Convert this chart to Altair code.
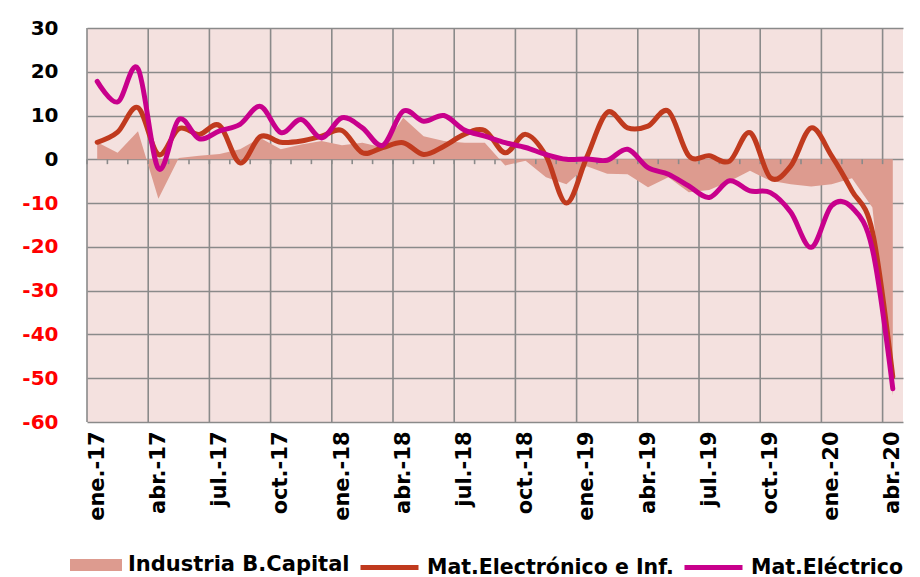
import json
import altair as alt
import pandas as pd

MESES = [
    "ene.-17", "feb.-17", "mar.-17", "abr.-17", "may.-17", "jun.-17", "jul.-17", "ago.-17",
    "sep.-17", "oct.-17", "nov.-17", "dic.-17",
    "ene.-18", "feb.-18", "mar.-18", "abr.-18", "may.-18", "jun.-18", "jul.-18", "ago.-18",
    "sep.-18", "oct.-18", "nov.-18", "dic.-18",
    "ene.-19", "feb.-19", "mar.-19", "abr.-19", "may.-19", "jun.-19", "jul.-19", "ago.-19",
    "sep.-19", "oct.-19", "nov.-19", "dic.-19",
    "ene.-20", "feb.-20", "mar.-20", "abr.-20",
]

INDUSTRIA = [3.9, 1.5, 6.4, -9.0, 0.3, 0.8, 1.2, 2.3, 4.9, 2.3, 3.4, 4.2, 3.2, 3.8, 2.7, 9.5,
             5.3, 4.2, 3.8, 3.8, -1.4, -0.3, -4.1, -5.7, -1.6, -3.3, -3.4, -6.4, -4.1, -7.5,
             -7.0, -5.0, -2.6, -4.9, -5.7, -6.2, -5.7, -4.3, -11.0, -54.0]

ELECTRONICO = [3.9, 6.2, 11.8, 1.1, 7.0, 5.7, 7.7, -0.8, 5.2, 3.9, 4.2, 5.3, 6.6, 1.5, 2.7, 3.8,
               1.1, 3.0, 5.7, 6.6, 1.5, 5.7, 0.8, -10.0, 0.5, 10.7, 7.2, 7.6, 11.0, 0.8,
               0.8, -0.4, 6.1, -4.2, -1.5, 7.2, 0.8, -7.2, -16.5, -49.7]

ELECTRICO = [17.8, 13.1, 20.7, -2.1, 9.1, 4.7, 6.5, 8.0, 12.1, 6.1, 9.1, 4.9, 9.5, 7.2, 3.2, 11.0,
             8.7, 10.0, 6.7, 5.3, 3.8, 2.7, 1.1, 0.0, 0.1, -0.2, 2.3, -1.9, -3.4, -6.1,
             -8.7, -4.9, -7.2, -7.6, -12.1, -20.1, -10.6, -11.0, -20.5, -52.4]

Y_TICKS = [-60, -50, -40, -30, -20, -10, 0, 10, 20, 30]
SERIES = ["Industria B.Capital", "Mat.Electrónico e Inf.", "Mat.Eléctrico"]
COLORES = ["#dd9b8f", "#c03a1e", "#c8008c"]

FONT = "DejaVu Sans"
GRID = "#8a8a8a"
n = len(MESES)

df_area = pd.DataFrame({"i": list(range(n)), "v": INDUSTRIA, "serie": SERIES[0]})
df_l1 = pd.DataFrame({"i": list(range(n)), "v": ELECTRONICO, "serie": SERIES[1]})
df_l2 = pd.DataFrame({"i": list(range(n)), "v": ELECTRICO, "serie": SERIES[2]})
df_grid = pd.DataFrame({"b": [k - 0.5 for k in range(0, n, 3)]})
df_ticks = pd.DataFrame({"b": [k - 0.5 for k in range(n)]})

xscale = alt.Scale(domain=[-0.5, n - 0.5], nice=False, zero=False)
yscale = alt.Scale(domain=[-60, 30], nice=False, zero=False)

label_expr = json.dumps(MESES) + "[datum.value]"

x_axis = alt.Axis(
    values=list(range(0, n, 3)), labelExpr=label_expr, labelAngle=-90,
    grid=False, ticks=False, domain=False, title=None,
    labelFont=FONT, labelFontSize=21, labelFontWeight="bold", labelColor="#000000",
    labelPadding=9, labelAlign="right", labelBaseline="middle",
)
y_axis = alt.Axis(
    values=Y_TICKS, grid=True, gridColor=GRID, gridWidth=1.6, ticks=False, domain=False,
    title=None, labelFont=FONT, labelFontSize=20, labelFontWeight="bold",
    labelExpr="'' + datum.value",
    labelColor={"expr": "datum.value < 0 ? '#ff0000' : '#000000'"}, labelPadding=29,
)

X = alt.X("i:Q", scale=xscale, axis=x_axis)
Y = alt.Y("v:Q", scale=yscale, axis=y_axis)

vgrid = alt.Chart(df_grid).mark_rule(color=GRID, strokeWidth=1.6).encode(
    x=alt.X("b:Q", scale=xscale, axis=x_axis)
)

area = alt.Chart(df_area).mark_area(opacity=1, interpolate="linear").encode(
    x=X, y=Y,
    fill=alt.Fill(
        "serie:N",
        scale=alt.Scale(domain=[SERIES[0]], range=[COLORES[0]]),
        legend=alt.Legend(
            orient="none", legendX=-17, legendY=511, direction="horizontal", title=None,
            symbolType="M-1,-0.23L1,-0.23L1,0.23L-1,0.23Z", symbolSize=2704,
            symbolStrokeWidth=0, symbolOpacity=1,
            labelFont=FONT, labelFontSize=21, labelFontWeight="bold", labelColor="#000000",
            labelOffset=6, labelLimit=400, padding=0,
        ),
    ),
)

zticks = alt.Chart(df_ticks).mark_rule(color=GRID, strokeWidth=1.6).encode(
    x=alt.X("b:Q", scale=xscale, axis=x_axis),
    y=alt.datum(0, scale=yscale, axis=y_axis),
    y2=alt.datum(-1.1),
)

stroke_enc = alt.Stroke(
    "serie:N",
    scale=alt.Scale(domain=SERIES[1:], range=COLORES[1:]),
    legend=alt.Legend(
        orient="none", legendX=271, legendY=508, direction="horizontal", title=None,
        symbolType="stroke", symbolSize=3364, symbolStrokeWidth=5,
        labelFont=FONT, labelFontSize=20.5, labelFontWeight="bold", labelColor="#000000",
        labelOffset=6, labelLimit=400, columnPadding=0, padding=0,
    ),
)

line1 = alt.Chart(df_l1).mark_line(
    interpolate="cardinal", tension=0, strokeWidth=5, strokeCap="round", strokeJoin="round"
).encode(x=X, y=Y, stroke=stroke_enc)

line2 = alt.Chart(df_l2).mark_line(
    interpolate="cardinal", tension=0, strokeWidth=5, strokeCap="round", strokeJoin="round"
).encode(x=X, y=Y, stroke=stroke_enc)

chart = alt.layer(vgrid, area, zticks, line1, line2).properties(
    width=816, height=394,
    autosize=alt.AutoSizeParams(type="none"),
    padding={"left": 79, "top": 20, "right": 9, "bottom": 155},
    background="#ffffff",
).configure_view(fill="#f4e1df", strokeWidth=0)

chart.save("out.html", embed_options={"renderer": "svg", "actions": False})
